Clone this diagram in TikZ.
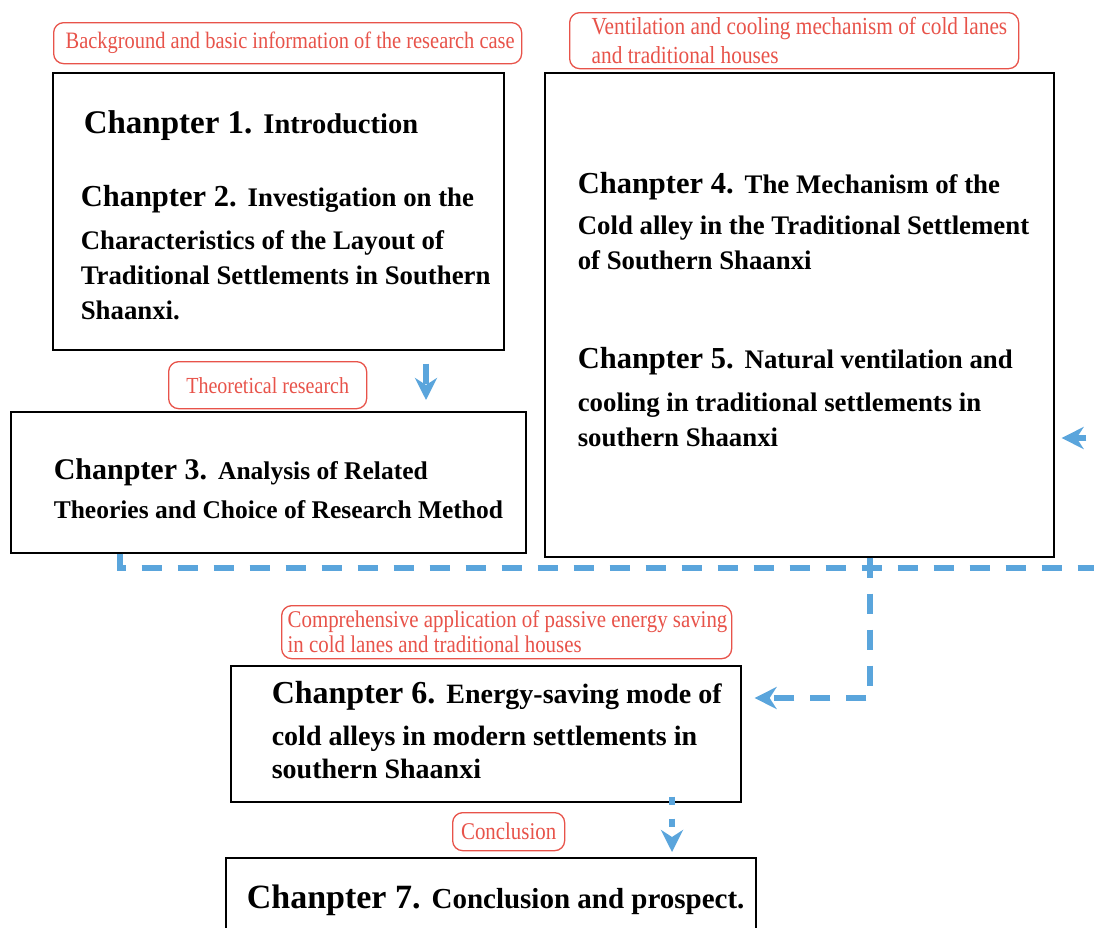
\documentclass[tikz,border=0pt]{standalone}
\usepackage{fontspec}
\setmainfont{Liberation Serif}
\newfontfamily\tagfont[FakeStretch=0.87]{Liberation Serif}
\usetikzlibrary{arrows.meta}
\definecolor{tagRed}{HTML}{E8534A}
\definecolor{flowBlue}{HTML}{5AA5DC}
% chapter heading, optional size
\newcommand{\chaphead}[2][30.5]{{\fontsize{#1}{36}\selectfont Chanpter #2.}\hspace{11pt}}

\begin{document}
\begin{tikzpicture}[
    x=1pt, y=-1pt,
    tightwords/.style={execute at begin node={\spaceskip=0pt\xspaceskip=0pt
      \rightskip=-60pt plus 1fil\hyphenpenalty=10000}},
    chapbox/.style={draw, line width=1.6pt, anchor=north west, inner sep=0pt, align=left,
      tightwords, font=\bfseries\fontsize{26.8}{35}\selectfont},
    tagbox/.style={draw=tagRed, text=tagRed, line width=1.3pt, rounded corners=10pt,
      anchor=north west, inner sep=0pt, tightwords, font=\tagfont\fontsize{24}{27}\selectfont},
    flow/.style={draw=flowBlue, line width=5.2pt, dash pattern=on 20pt off 16pt},
    tip/.style={-{Stealth[length=22pt, width=22pt, inset=7pt]}, flowBlue}
  ]
  \useasboundingbox (0,0) rectangle (1094,927);
  \fill[white] (0,0) rectangle (1094,927);
  \clip (0,0) rectangle (1094,927);

  % chapter boxes
  \node[chapbox, minimum width=451pt, minimum height=277pt, text width=395pt] (intro) at (52,72)
    {\rule{0pt}{31pt}\hspace{3pt}\chaphead[33]{1}{\fontsize{28.5}{35}\selectfont Introduction}\\[38pt]
     \chaphead{2}Investigation on the\\[8pt]
     Characteristics of the Layout of\\
     Traditional Settlements in Southern\\
     Shaanxi.};
  \node[chapbox, minimum width=509pt, minimum height=484pt, text width=443pt] (mech) at (544,72)
    {\chaphead{4}The Mechanism of the\\[6pt]
     Cold alley in the Traditional Settlement\\
     of Southern Shaanxi\\[64pt]
     \chaphead{5}Natural ventilation and\\[8pt]
     cooling in traditional settlements in\\
     southern Shaanxi\rule[-10pt]{0pt}{10pt}};
  \node[chapbox, minimum width=515pt, minimum height=141pt, text width=429pt,
    font=\bfseries\fontsize{25.5}{35}\selectfont] (theory) at (10,411)
    {\rule{0pt}{34pt}\chaphead[30]{3}Analysis of Related\\[4pt]
     Theories and Choice of Research Method};
  \node[chapbox, minimum width=510pt, minimum height=136pt, text width=428pt,
    font=\bfseries\fontsize{28}{33}\selectfont] (mode) at (230,665)
    {\chaphead[32]{6}Energy-saving mode of\\[9pt]
     cold alleys in modern settlements in\\
     southern Shaanxi\rule[-8pt]{0pt}{8pt}};
  \node[chapbox, minimum width=530pt, minimum height=78pt, text width=488pt,
    font=\bfseries\fontsize{29}{35}\selectfont] (concl) at (225,857)
    {\rule{0pt}{30pt}\chaphead[34]{7}Conclusion and prospect.};

  % red tags
  \node[tagbox, minimum width=468pt, minimum height=41pt, text width=444pt, align=left,
    font=\tagfont\fontsize{23.5}{27}\selectfont] (tagBack) at (53,22)
    {Background and basic information of the research case};
  \node[tagbox, minimum width=449pt, minimum height=56pt, text width=405pt, align=left,
    font=\tagfont\fontsize{24.5}{29}\selectfont] (tagVent) at (569,12)
    {Ventilation and cooling mechanism of cold lanes\\
     and traditional houses};
  \node[tagbox, minimum width=198pt, minimum height=47pt, align=center,
    font=\tagfont\fontsize{23}{27}\selectfont] (tagTheo) at (168,361)
    {Theoretical research};
  \node[tagbox, minimum width=450pt, minimum height=53pt, text width=438pt, align=left,
    font=\tagfont\fontsize{24}{25}\selectfont] (tagComp) at (281,605)
    {Comprehensive application of passive energy saving\\
     in cold lanes and traditional houses};
  \node[tagbox, minimum width=112pt, minimum height=38pt, align=center] (tagConc) at (452,812)
    {Conclusion};

  % connectors
  \coordinate (downA) at (426,0);
  \coordinate (downD) at (672,0);
  \coordinate (busL) at (120,568);
  \coordinate (busR) at (1125,568);
  \coordinate (sideR) at (1125,438);
  \coordinate (turnD) at (870,698);

  \draw[flow, tip, shorten <=13pt, shorten >=11pt] (intro.south -| downA) -- (theory.north -| downA);
  \draw[flow, tip, dash pattern=on 8pt off 14pt, shorten <=-6pt, shorten >=5pt]
    (mode.south -| downD) -- (concl.north -| downD);
  \draw[flow, tip, shorten >=7pt] (theory.south -| busL) -- (busL) -- (busR) -- (sideR) -- (mech.east |- sideR);
  \draw[flow, tip, shorten >=13pt] (mech.south -| turnD) -- (turnD) -- (mode.east |- turnD);
\end{tikzpicture}
\end{document}
